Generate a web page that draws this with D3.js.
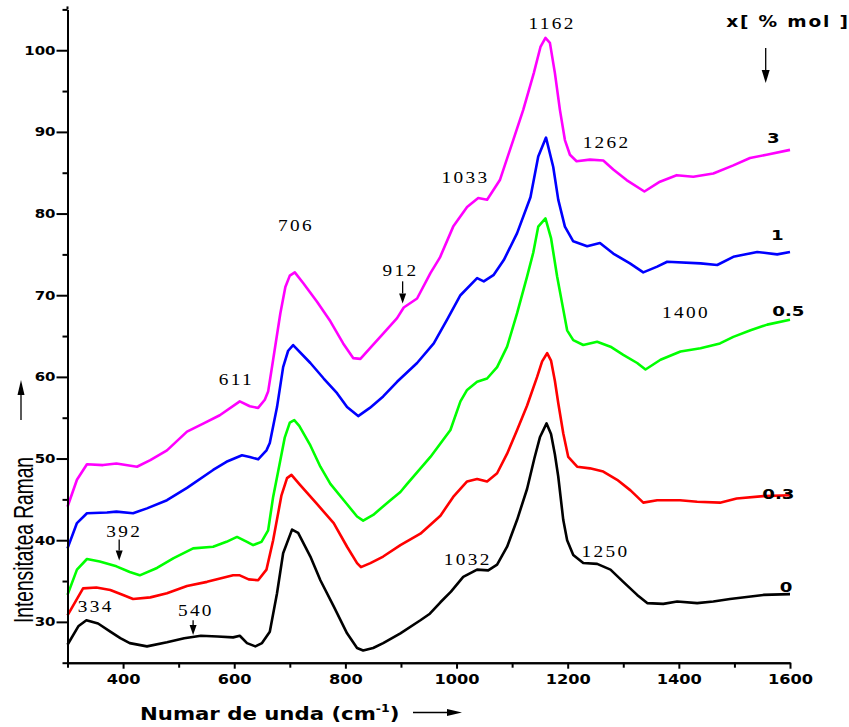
<!DOCTYPE html>
<html>
<head>
<meta charset="utf-8">
<script src="https://cdn.jsdelivr.net/npm/d3@7"></script>
<style>
  html, body { margin: 0; padding: 0; background: #fff; }
  svg { display: block; }
</style>
</head>
<body>
<svg id="chart" width="849" height="727"></svg>
<script>
// ---------------- DATA ----------------
const seriesNames = ["0", "0.3", "0.5", "1", "3"];
const seriesColors = ["#000000", "#ff0000", "#00ff00", "#0000ff", "#ff00ff"];

// [wavenumber (cm-1), Raman intensity]
const spectrum0 = [
  [300,27.2],[320,29.5],[334,30.2],[355,29.8],[377,28.8],[395,28.0],[412,27.4],[443,27.0],[479,27.5],[510,28.0],
  [540,28.3],[570,28.2],[598,28.1],[610,28.3],[623,27.4],[638,27.0],[650,27.4],[664,28.8],[677,33.5],[688,38.4],
  [704,41.3],[715,40.9],[737,38.0],[755,35.1],[779,31.9],[803,28.6],[821,26.8],[832,26.5],[850,26.8],[868,27.4],
  [899,28.6],[935,30.2],[952,31.0],[971,32.4],[990,33.7],[1012,35.5],[1037,36.4],[1057,36.3],[1073,37.0],[1091,39.2],
  [1109,42.5],[1127,46.3],[1140,50.0],[1150,52.6],[1162,54.3],[1170,53.0],[1177,50.5],[1183,47.8],[1192,42.5],[1199,40.0],[1210,38.2],
  [1228,37.2],[1253,37.1],[1277,36.4],[1300,34.9],[1325,33.3],[1343,32.3],[1372,32.2],[1397,32.5],[1433,32.3],[1462,32.5],
  [1492,32.8],[1552,33.3],[1600,33.4]
];
const spectrum03 = [
  [300,30.8],[328,34.1],[352,34.2],[377,33.9],[400,33.3],[418,32.8],[449,33.0],[479,33.5],[515,34.4],[551,34.9],
  [598,35.7],[610,35.7],[626,35.2],[643,35.1],[658,36.4],[670,40.0],[685,45.5],[695,47.6],[703,48.0],[718,46.8],[748,44.5],
  [779,42.1],[803,39.2],[821,37.2],[828,36.7],[845,37.2],[868,38.0],[899,39.4],[935,40.8],[971,43.0],[994,45.3],
  [1019,47.2],[1037,47.5],[1055,47.2],[1073,48.2],[1091,50.6],[1109,53.5],[1127,56.5],[1145,60.0],[1154,61.9],[1163,62.9],
  [1170,62.0],[1177,59.5],[1183,56.8],[1192,53.1],[1201,50.2],[1217,49.0],[1240,48.8],[1264,48.4],[1289,47.4],[1313,46.1],[1336,44.6],
  [1361,44.9],[1402,44.9],[1433,44.7],[1474,44.6],[1504,45.1],[1552,45.4],[1600,45.5]
];
const spectrum05 = [
  [300,33.3],[317,36.4],[335,37.7],[358,37.4],[388,36.8],[412,36.1],[430,35.7],[461,36.6],[491,37.8],[526,39.0],
  [562,39.2],[586,39.8],[605,40.4],[623,39.8],[634,39.4],[649,39.8],[661,41.2],[670,45.3],[679,48.4],[691,52.6],
  [700,54.4],[708,54.7],[717,54.0],[737,51.6],[755,49.0],[773,46.9],[803,44.4],[821,42.9],[832,42.4],[850,43.1],[881,44.9],
  [899,45.9],[910,46.8],[953,50.2],[989,53.5],[1007,57.0],[1019,58.4],[1037,59.4],[1055,59.8],[1073,61.2],[1091,63.7],
  [1109,67.8],[1127,72.3],[1138,75.2],[1147,78.4],[1160,79.4],[1170,77.0],[1181,72.3],[1190,69.0],[1199,65.7],[1210,64.5],
  [1228,63.9],[1253,64.3],[1277,63.7],[1300,62.7],[1325,61.7],[1340,60.9],[1367,62.1],[1403,63.1],[1439,63.5],[1474,64.1],
  [1498,64.9],[1529,65.7],[1559,66.4],[1600,67.0]
];
const spectrum1 = [
  [300,39.0],[317,42.1],[335,43.3],[371,43.4],[388,43.5],[418,43.3],[443,43.9],[479,44.9],[515,46.4],[562,48.6],
  [586,49.6],[614,50.4],[628,50.2],[643,49.9],[658,51.0],[664,51.9],[677,56.3],[688,61.2],[697,63.2],[706,63.9],[737,61.7],
  [761,59.8],[785,58.0],[803,56.3],[823,55.2],[844,56.2],[868,57.6],[893,59.4],[929,61.7],[959,64.1],[983,67.0],
  [1007,70.0],[1037,72.1],[1049,71.7],[1067,72.5],[1085,74.3],[1109,77.6],[1133,82.0],[1147,87.0],[1161,89.3],[1174,85.7],
  [1183,81.7],[1195,78.4],[1210,76.6],[1235,76.0],[1258,76.4],[1282,75.1],[1312,73.9],[1336,72.8],[1361,73.5],[1379,74.1],
  [1439,73.9],[1469,73.7],[1498,74.7],[1541,75.3],[1577,75.0],[1600,75.3]
];
const spectrum3 = [
  [300,44.1],[317,47.4],[335,49.3],[364,49.2],[388,49.4],[425,49.0],[449,49.8],[479,51.0],[515,53.3],[545,54.3],
  [574,55.3],[610,57.0],[628,56.4],[643,56.2],[655,57.2],[661,58.2],[670,62.1],[683,67.8],[692,71.0],[700,72.4],[709,72.8],
  [724,71.5],[749,69.2],[773,66.8],[796,64.1],[814,62.3],[827,62.2],[844,63.5],[868,65.3],[893,67.2],[905,68.5],
  [929,69.6],[953,72.7],[970,74.6],[994,78.4],[1019,80.8],[1039,81.9],[1055,81.7],[1078,84.1],[1102,89.0],[1120,92.7],
  [1139,97.2],[1151,100.4],[1160,101.5],[1168,100.9],[1177,97.2],[1186,92.7],[1195,89.0],[1204,87.2],[1216,86.4],[1240,86.6],
  [1264,86.5],[1282,85.4],[1306,84.1],[1338,82.7],[1366,83.9],[1396,84.7],[1426,84.5],[1462,84.9],[1498,85.9],[1528,86.8],
  [1558,87.2],[1600,87.8]
];
const spectra = [spectrum0, spectrum03, spectrum05, spectrum1, spectrum3];

// series end labels: [wavenumber, intensity]
const seriesLabelPos = [[1593,33.7],[1579,45.1],[1597,67.5],[1577,76.8],[1570,88.6]];

// peak annotations: text, wavenumber, intensity
const peakLabels = ["1162","706","611","912","1033","1262","1400","392","334","540","1032","1250"];
const peakLabelX = [1172, 711, 604, 899, 1016, 1270, 1413, 402, 351, 531, 1020, 1268];
const peakLabelY = [102.6, 77.9, 59.0, 72.4, 83.8, 88.0, 67.2, 40.4, 31.2, 30.7, 37.0, 38.0];

// marker arrows: wavenumber, from intensity, to intensity
const markerX = [393, 526, 903];
const markerFrom = [40.1, 30.2, 71.7];
const markerTo = [37.5, 28.4, 69.0];

const xTicksMajor = [400, 600, 800, 1000, 1200, 1400, 1600];
const xTicksMinor = [300, 500, 700, 900, 1100, 1300, 1500];
const yTicksMajor = [30, 40, 50, 60, 70, 80, 90, 100];
const yTicksMinor = [25, 35, 45, 55, 65, 75, 85, 95, 105];

// ---------------- DRAW ----------------
const svg = d3.select("#chart");
const x = d3.scaleLinear().domain([300, 1600]).range([67.5, 790]);
const y = d3.scaleLinear().domain([25, 105]).range([662.7, 9.4]);
const K = 1.2; // horizontal stretch of glyphs

// curves
const line = d3.line().x(d => x(d[0])).y(d => y(d[1])).curve(d3.curveLinear);
svg.append("g").selectAll("path").data(spectra).join("path")
  .attr("d", line)
  .attr("fill", "none")
  .attr("stroke", (d, i) => seriesColors[i])
  .attr("stroke-width", 2.6)
  .attr("stroke-linejoin", "round");

// axes
function styleAxis(g) {
  g.select(".domain").attr("stroke-width", 2);
  g.selectAll(".tick line").attr("stroke-width", 2);
}
const gxMinor = svg.append("g").attr("transform", "translate(0,662.7)")
  .call(d3.axisBottom(x).tickValues(xTicksMinor).tickSize(5).tickSizeOuter(0).tickFormat(""));
styleAxis(gxMinor);
const gx = svg.append("g").attr("transform", "translate(0,662.7)")
  .call(d3.axisBottom(x).tickValues(xTicksMajor).tickSize(6).tickPadding(6).tickSizeOuter(0).tickFormat(d3.format("d")));
styleAxis(gx);
gx.selectAll(".tick text")
  .attr("font-family", "DejaVu Sans").attr("font-weight", "bold").attr("font-size", 13.5)
  .attr("fill", "#000").attr("transform", `scale(${K},1)`);

const gyMinor = svg.append("g").attr("transform", "translate(67.5,0)")
  .call(d3.axisLeft(y).tickValues(yTicksMinor).tickSize(5).tickSizeOuter(0).tickFormat(""));
styleAxis(gyMinor);
const gy = svg.append("g").attr("transform", "translate(67.5,0)")
  .call(d3.axisLeft(y).tickValues(yTicksMajor).tickSize(11).tickPadding(1).tickSizeOuter(0).tickFormat(d3.format("d")));
styleAxis(gy);
gy.selectAll(".tick text")
  .attr("font-family", "DejaVu Sans").attr("font-weight", "bold").attr("font-size", 12.5)
  .attr("fill", "#000").attr("x", -12 / K).attr("transform", `scale(${K},1)`);
// extend y axis line slightly above top tick
svg.append("line").attr("x1", 67.5).attr("x2", 67.5).attr("y1", y(105)).attr("y2", y(105) - 3)
  .attr("stroke", "#000").attr("stroke-width", 2);

// arrow helper
function arrow(x1, y1, x2, y2, headLen, headW) {
  const ang = Math.atan2(y2 - y1, x2 - x1);
  const bx = x2 - headLen * Math.cos(ang), by = y2 - headLen * Math.sin(ang);
  svg.append("line").attr("x1", x1).attr("y1", y1).attr("x2", bx).attr("y2", by)
    .attr("stroke", "#000").attr("stroke-width", 1.3);
  const px = -Math.sin(ang) * headW / 2, py = Math.cos(ang) * headW / 2;
  svg.append("path")
    .attr("d", `M${x2},${y2}L${bx + px},${by + py}L${bx - px},${by - py}Z`)
    .attr("fill", "#000");
}

// axis titles
const xt = svg.append("text")
  .attr("transform", `translate(140,720) scale(1.25,1)`)
  .attr("font-family", "DejaVu Sans").attr("font-weight", "bold").attr("font-size", 17)
  .attr("fill", "#000");
xt.append("tspan").text("Numar de unda (cm");
xt.append("tspan").attr("font-size", 10).attr("dy", -8).text("-1");
xt.append("tspan").attr("dy", 8).text(")");
arrow(413, 712.5, 462, 712.5, 15, 7);

svg.append("text")
  .attr("transform", "translate(33,623) rotate(-90)")
  .attr("font-family", "Liberation Sans").attr("font-size", 27)
  .attr("textLength", 166).attr("lengthAdjust", "spacingAndGlyphs")
  .attr("fill", "#000")
  .text("Intensitatea Raman");
arrow(21, 420, 21, 380, 15, 7);

// legend title
svg.append("text")
  .attr("transform", `translate(788,27) scale(${K},1)`)
  .attr("text-anchor", "middle")
  .attr("font-family", "DejaVu Sans").attr("font-weight", "bold").attr("font-size", 15.5)
  .attr("fill", "#000").attr("letter-spacing", 1.5)
  .text("x[ % mol ]");
arrow(765.7, 48, 765.7, 83, 13, 8);

// series labels
seriesNames.forEach((s, i) => {
  svg.append("text")
    .attr("transform", `translate(${x(seriesLabelPos[i][0])},${y(seriesLabelPos[i][1])}) scale(1.3,1)`)
    .attr("text-anchor", "middle")
    .attr("font-family", "DejaVu Sans").attr("font-weight", "bold").attr("font-size", 14)
    .attr("fill", "#000")
    .text(s);
});

// peak labels
peakLabels.forEach((s, i) => {
  svg.append("text")
    .attr("transform", `translate(${x(peakLabelX[i])},${y(peakLabelY[i])}) scale(1.17,1)`)
    .attr("text-anchor", "middle")
    .attr("font-family", "Liberation Serif").attr("font-size", 16.5)
    .attr("letter-spacing", 2)
    .attr("fill", "#000")
    .text(s);
});

// marker arrows
markerX.forEach((m, i) => {
  arrow(x(m), y(markerFrom[i]), x(m), y(markerTo[i]), 10, 7);
});
</script>
</body>
</html>
